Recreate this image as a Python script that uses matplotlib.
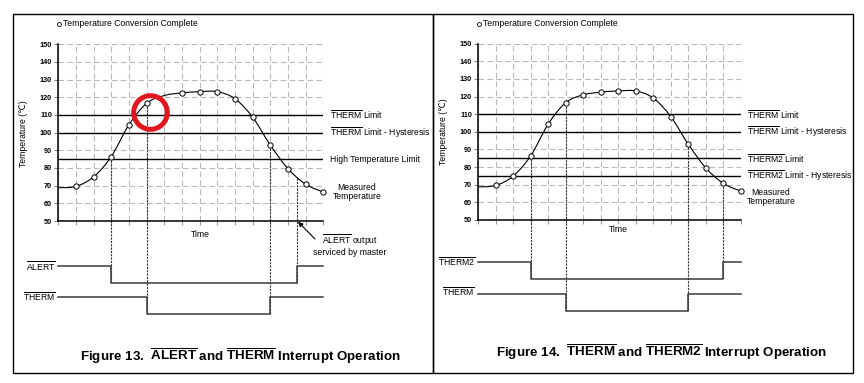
import numpy as np
import matplotlib.pyplot as plt
from matplotlib.path import Path
from matplotlib.patches import PathPatch, Rectangle

plt.rcParams['font.family'] = ['Liberation Sans', 'DejaVu Sans']
plt.rcParams['mathtext.fontset'] = 'custom'
plt.rcParams['mathtext.rm'] = 'Liberation Sans'
plt.rcParams['mathtext.it'] = 'Liberation Sans:italic'
plt.rcParams['mathtext.bf'] = 'Liberation Sans:bold'

# ---- data ----
conv_cols = np.arange(1, 16)
conv_temps = [69.6, 75, 86.5, 104.5, 116.6, 121, 122.5, 123.2, 123.2,
              119.2, 108.7, 93, 79.6, 70.8, 66.4]
start_temp = 68.8
y_ticks = np.arange(50, 151, 10)

# Figure 13
limits13 = [110, 100, 85]
limit_labels13 = [r'$\overline{\mathrm{THERM}}$ Limit',
                  r'$\overline{\mathrm{THERM}}$ Limit - Hysteresis',
                  'High Temperature Limit']
alert_edges = [3, 13.5]
alert_service_temp = 74.5
therm_edges = [5, 12]
hidden_col13 = 6   # conversion marker covered by the red highlight ring

# Figure 14
limits14 = [110, 100, 85, 75]
limit_labels14 = [r'$\overline{\mathrm{THERM}}$ Limit',
                  r'$\overline{\mathrm{THERM}}$ Limit - Hysteresis',
                  r'$\overline{\mathrm{THERM2}}$ Limit',
                  r'$\overline{\mathrm{THERM2}}$ Limit - Hysteresis']
therm2_edges = [3, 14]

W, H = 864, 383
fig = plt.figure(figsize=(W / 100, H / 100), dpi=100)
FS = 6.2


def px_rect(x0, y0, x1, y1):
    return [x0 / W, 1 - y1 / H, (x1 - x0) / W, (y1 - y0) / H]


def ftext(x, y, s, **kw):
    kw.setdefault('fontsize', FS)
    kw.setdefault('va', 'center')
    return fig.text(x / W, 1 - y / H, s, **kw)


def smooth_path(xs, ys):
    pts = np.column_stack([xs, ys]).astype(float)
    verts, codes = [pts[0]], [Path.MOVETO]
    n = len(pts)
    for i in range(n - 1):
        p0, p1 = pts[max(i - 1, 0)], pts[i]
        p2, p3 = pts[i + 1], pts[min(i + 2, n - 1)]
        verts += [p1 + (p2 - p0) / 6, p2 - (p3 - p1) / 6, p2]
        codes += [Path.CURVE4] * 3
    return Path(verts, codes)


def temp_chart(rect, limits, hide=None):
    ax = fig.add_axes(px_rect(*rect))
    ax.set_xlim(0, 15)
    ax.set_ylim(50, 150)
    ax.set_xticks(np.arange(0, 16))
    ax.set_xticklabels([])
    ax.set_yticks(y_ticks)
    ax.tick_params(axis='y', length=3, width=0.8, labelsize=5.2, pad=1.5,
                   color='#888888')
    for lab in ax.get_yticklabels():
        lab.set_fontweight('bold')
    ax.tick_params(axis='x', length=3, width=0.8, color='#999999')
    for s in ['top', 'right']:
        ax.spines[s].set_visible(False)
    for s in ['left', 'bottom']:
        ax.spines[s].set_linewidth(1.1)
        ax.spines[s].set_zorder(4)
    ax.grid(True, ls=(0, (5, 3)), color='#b8b8b8', lw=0.8)
    ax.set_axisbelow(True)
    ax.patch.set_visible(False)

    ax.hlines(limits, 0, 15, color='black', lw=1.0, zorder=3)

    xs = np.concatenate([[0], conv_cols])
    ys = np.concatenate([[start_temp], conv_temps])
    ax.add_patch(PathPatch(smooth_path(xs, ys), fill=False, ec='black',
                           lw=0.8, zorder=4))
    mx = [c for c in conv_cols if c != hide]
    my = [t for c, t in zip(conv_cols, conv_temps) if c != hide]
    ax.plot(mx, my, 'o', ms=3.8, mfc='white', mec='black',
            mew=0.7, zorder=5, clip_on=False)
    # legend marker
    ax.plot([0.05], [161.3], 'o', ms=2.8, mfc='white', mec='black', mew=0.6,
            clip_on=False)
    return ax


def signal(ax, edges, hi, lo):
    ax.plot([0, edges[0], edges[0], edges[1], edges[1], 15],
            [hi, hi, lo, lo, hi, hi], color='#3a3a3a', lw=1.1,
            clip_on=False, zorder=3)


def event_line(ax, col, temp, lo):
    ax.plot([col, col], [temp, lo], color='#333333', lw=0.8,
            ls=(0, (2, 1)), clip_on=False, zorder=2)


temps_at = dict(zip(conv_cols, conv_temps))

# ---------------- Figure 13 ----------------
ax1 = temp_chart((58.3, 44.3, 323.3, 221), limits13, hide=hidden_col13)
a_hi, a_lo, t_hi, t_lo = 24.7, 15.1, 7.2, -2.8
event_line(ax1, alert_edges[0], temps_at[3], a_lo)
event_line(ax1, therm_edges[0], temps_at[5], t_lo)
event_line(ax1, therm_edges[1], temps_at[12], t_lo)
event_line(ax1, alert_edges[1], alert_service_temp, a_lo)
signal(ax1, alert_edges, a_hi, a_lo)
signal(ax1, therm_edges, t_hi, t_lo)

for lim, lab in zip(limits13, limit_labels13):
    ax1.text(15.38, lim, lab, fontsize=FS, va='center', ha='left')
ax1.annotate('', xy=(13.57, 49.6), xytext=(14.53, 39.8),
             arrowprops=dict(arrowstyle='-|>', color='black', lw=0.8,
                             mutation_scale=7, shrinkA=0, shrinkB=0),
             annotation_clip=False)
# red highlight ring
ax1.plot([5.17], [111.9], 'o', ms=24.2, mfc='none', mec='#e3161f',
         mew=3.6, clip_on=False, zorder=6)

ftext(63, 24, 'Temperature Conversion Complete')
ftext(23, 134, 'Temperature (\u2103)', rotation=90, ha='center')
ftext(357, 192, 'Measured\nTemperature', ha='center', linespacing=1.1)
ftext(200, 234, 'Time', ha='center')
ftext(350, 245, r'$\overline{\mathrm{ALERT}}$ output' + '\nserviced by master',
      ha='center', linespacing=1.1)
ftext(55.5, 266, r'$\overline{\mathrm{ALERT}}$', ha='right')
ftext(55.5, 297, r'$\overline{\mathrm{THERM}}$', ha='right')
ftext(240, 356, r'Figure 13.  $\overline{\mathbf{ALERT}}$ and '
      r'$\overline{\mathbf{THERM}}$ Interrupt Operation',
      ha='center', fontsize=9.6, fontweight='bold')

# ---------------- Figure 14 ----------------
ax2 = temp_chart((478.3, 43.7, 740.7, 220), limits14)
t2_hi, t2_lo, t_hi2, t_lo2 = 26.2, 16.4, 8.2, -1.4
event_line(ax2, therm2_edges[0], temps_at[3], t2_lo)
event_line(ax2, therm_edges[0], temps_at[5], t_lo2)
event_line(ax2, therm_edges[1], temps_at[12], t_lo2)
event_line(ax2, therm2_edges[1], temps_at[14], t2_lo)
signal(ax2, therm2_edges, t2_hi, t2_lo)
signal(ax2, therm_edges, t_hi2, t_lo2)
for lim, lab in zip(limits14, limit_labels14):
    ax2.text(15.36, lim, lab, fontsize=FS, va='center', ha='left')

ftext(483, 23, 'Temperature Conversion Complete')
ftext(444, 132, 'Temperature (\u2103)', rotation=90, ha='center')
ftext(771, 197, 'Measured\nTemperature', ha='center', linespacing=1.1)
ftext(618, 230, 'Time', ha='center')
ftext(475, 262, r'$\overline{\mathrm{THERM2}}$', ha='right')
ftext(475, 292, r'$\overline{\mathrm{THERM}}$', ha='right')
ftext(662, 352, r'Figure 14.  $\overline{\mathbf{THERM}}$ and '
      r'$\overline{\mathbf{THERM2}}$ Interrupt Operation',
      ha='center', fontsize=9.6, fontweight='bold')

# panel frames
for x0, x1 in [(13, 433), (433, 853)]:
    fig.add_artist(Rectangle((x0 / W, 1 - 373 / H), (x1 - x0) / W,
                             (373 - 14) / H, transform=fig.transFigure,
                             fill=False, ec='black', lw=1.0))

fig.savefig('out.png', dpi=100)
